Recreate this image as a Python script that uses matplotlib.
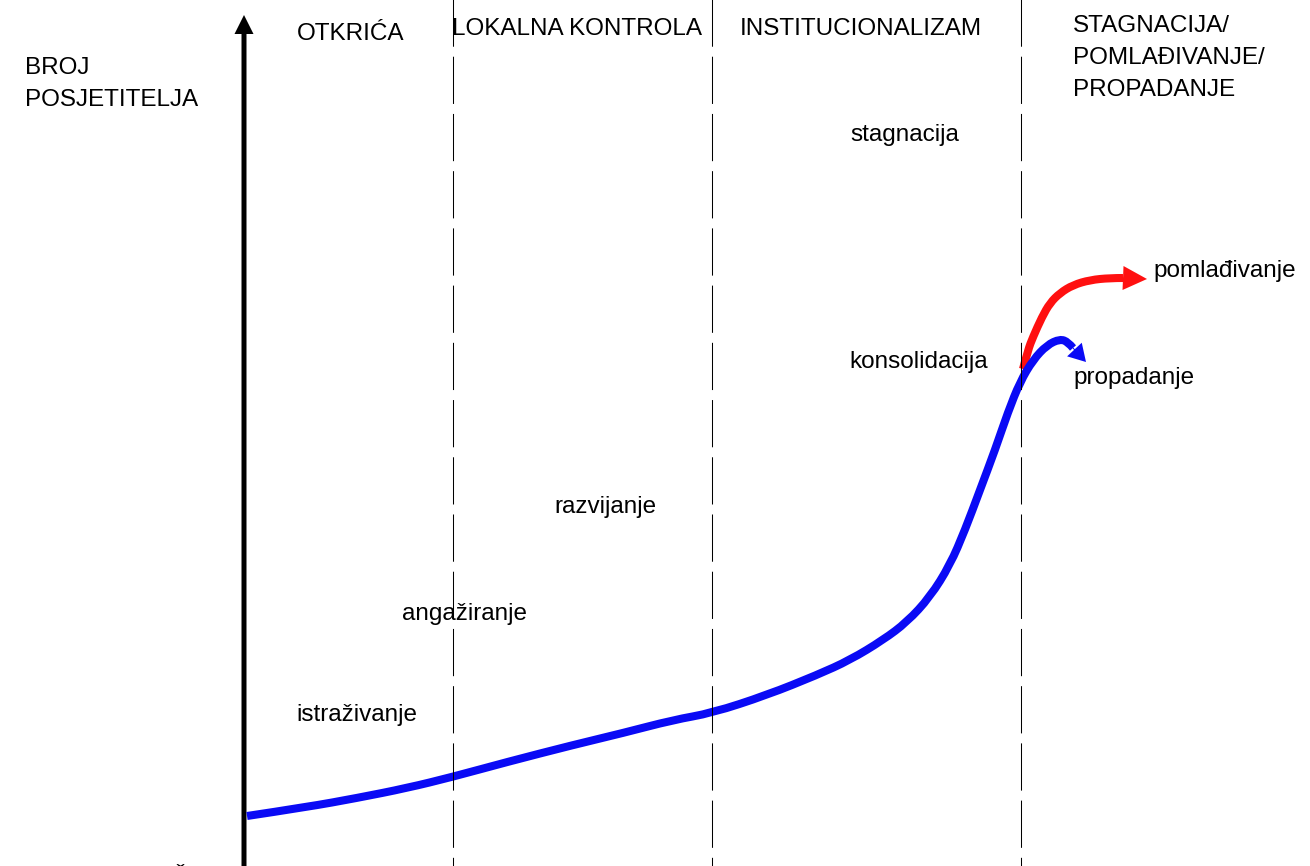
import matplotlib
matplotlib.use("Agg")
import matplotlib.pyplot as plt
from matplotlib.path import Path
from matplotlib.patches import PathPatch

plt.rcParams['font.family'] = ['Liberation Sans', 'DejaVu Sans']
plt.rcParams['lines.scale_dashes'] = False

# Picture frame: x to the right, y downward (same as the drawing)
W, H = 1310, 866

# main life-cycle curve (blue)
curve_x = [247, 307, 357, 407, 452, 507, 573, 623, 673, 712, 767, 817, 850,
           883, 907, 930, 950, 965, 980, 995, 1008, 1020, 1033, 1047, 1060,
           1068, 1073]
curve_y = [816, 807, 798, 788, 777, 762, 745, 733, 720, 713, 695, 675, 660,
           640, 622, 597, 565, 530, 490, 450, 412, 382, 360, 345, 339,
           342, 348]
decline_tip = (1086, 362)

# rejuvenation branch (red)
rejuv_x = [1023, 1028, 1033, 1042, 1050, 1060, 1073, 1090, 1110, 1123]
rejuv_y = [369, 350, 337, 317, 303, 293, 285, 280, 278, 278]
rejuv_tip = (1147, 279)

# stage boundaries
stage_lines = [453, 712, 1021]

# headings and labels: (text, x, baseline y)
headings = [
    ("OTKRIĆA", 297, 40),
    ("LOKALNA KONTROLA", 452, 35),
    ("INSTITUCIONALIZAM", 740, 35),
    ("STAGNACIJA/", 1073, 32),
    ("POMLAĐIVANJE/", 1073, 64),
    ("PROPADANJE", 1073, 96),
    ("BROJ", 25, 74),
    ("POSJETITELJA", 25, 106),
]
phase_labels = [
    ("stagnacija", 850, 141),
    ("pomlađivanje", 1153, 277),
    ("konsolidacija", 849, 368),
    ("propadanje", 1073, 384),
    ("razvijanje", 554, 513),
    ("angažiranje", 402, 620),
    ("istraživanje", 296, 721),
]


def smooth_path(xs, ys):
    # quadratic bezier through midpoints, points act as control points
    pts = list(zip(xs, ys))
    verts = [pts[0]]
    codes = [Path.MOVETO]
    for i in range(1, len(pts) - 1):
        mid = ((pts[i][0] + pts[i + 1][0]) / 2, (pts[i][1] + pts[i + 1][1]) / 2)
        if i == len(pts) - 2:
            mid = pts[-1]
        verts += [pts[i], mid]
        codes += [Path.CURVE3, Path.CURVE3]
    return Path(verts, codes)


fig = plt.figure(figsize=(W / 100, H / 100), dpi=100)
ax = fig.add_axes([0, 0, 1, 1])
ax.set_xlim(0, W)
ax.set_ylim(H, 0)
ax.axis('off')

# dashed stage boundaries
for x in stage_lines:
    ax.plot([x, x], [-7, H], color='black', lw=0.75,
            dashes=(34, 7.2), solid_capstyle='butt')

# vertical axis with arrow
ax.arrow(244, H, 0, 15 - H, width=5, head_width=19, head_length=19,
         length_includes_head=True, color='black', lw=0)

blue = '#0a0af5'
red = '#ff1010'
ax.add_patch(PathPatch(smooth_path(rejuv_x, rejuv_y), fill=False,
                       edgecolor=red, lw=5.8, capstyle='butt'))
ax.arrow(rejuv_x[-1], rejuv_y[-1], rejuv_tip[0] - rejuv_x[-1],
         rejuv_tip[1] - rejuv_y[-1], width=1, head_width=24, head_length=24,
         length_includes_head=True, color=red, lw=0)

ax.add_patch(PathPatch(smooth_path(curve_x, curve_y), fill=False,
                       edgecolor=blue, lw=5.8, capstyle='butt'))
ax.arrow(curve_x[-1], curve_y[-1], decline_tip[0] - curve_x[-1],
         decline_tip[1] - curve_y[-1], width=1, head_width=20, head_length=17,
         length_includes_head=True, color=blue, lw=0)

for txt, x, y in headings + phase_labels:
    ax.text(x, y, txt, fontsize=17.5, ha='left', va='baseline', color='black')

# cut-off label at the bottom edge
ax.text(172, 885, "Ž", fontsize=17.5, ha='left', va='baseline', color='black')

fig.savefig("out.png", dpi=100)
